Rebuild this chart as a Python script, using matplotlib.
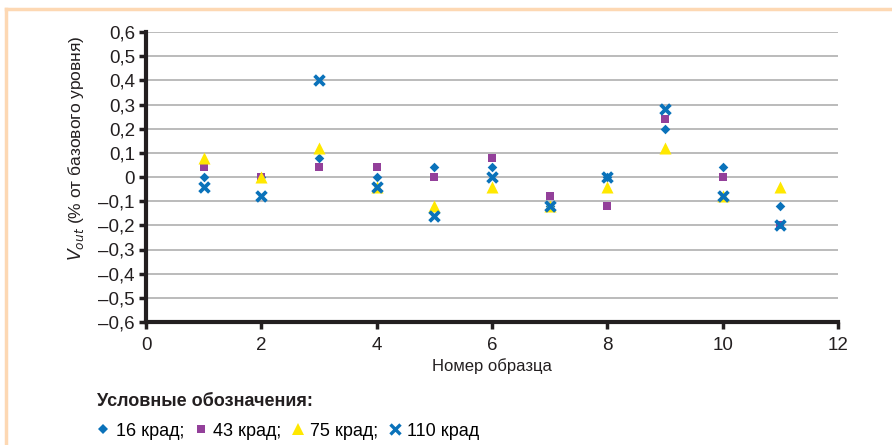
import matplotlib
matplotlib.use("Agg")
import matplotlib.pyplot as plt
from matplotlib.lines import Line2D
from matplotlib.ticker import FixedLocator, FuncFormatter

plt.rcParams['font.family'] = ['Liberation Sans', 'DejaVu Sans']

samples = [1, 2, 3, 4, 5, 6, 7, 8, 9, 10, 11]
v16 = [0.0, 0.0, 0.08, 0.0, 0.04, 0.04, -0.12, 0.0, 0.20, 0.04, -0.12]
v43 = [0.04, 0.0, 0.04, 0.04, 0.0, 0.08, -0.08, -0.12, 0.24, 0.0, -0.20]
v75 = [0.08, 0.0, 0.12, -0.04, -0.12, -0.04, -0.12, -0.04, 0.12, -0.08, -0.04]
v110 = [-0.04, -0.08, 0.40, -0.04, -0.16, 0.0, -0.12, 0.0, 0.28, -0.08, -0.20]
labels = ["16 крад;", "43 крад;", "75 крад;", "110 крад"]
yticks = [-0.6, -0.5, -0.4, -0.3, -0.2, -0.1, 0, 0.1, 0.2, 0.3, 0.4, 0.5, 0.6]
xticks = [0, 2, 4, 6, 8, 10, 12]

blue = '#0A72BA'
purple = '#93409A'
yellow = '#FFE800'
ink = '#231F20'

fig = plt.figure(figsize=(8.92, 4.45), dpi=100)
ax = fig.add_axes([146/892, 1-322/445, (838-146)/892, (322-32)/445])

ax.scatter(samples, v16, marker='D', s=24, color=blue, zorder=3, linewidths=0)
ax.scatter(samples, v43, marker='s', s=36, color=purple, zorder=4, linewidths=0)
ax.scatter(samples, v75, marker='^', s=75, color=yellow, zorder=5, linewidths=0)
ax.scatter(samples, v110, marker='x', s=50, color=blue, zorder=6, linewidths=2.7)

ax.set_xlim(0, 12)
ax.set_ylim(-0.6, 0.6)
ax.xaxis.set_major_locator(FixedLocator(xticks))
ax.yaxis.set_major_locator(FixedLocator(yticks))

def yfmt(v, pos):
    if abs(v) < 1e-9:
        return '0'
    s = f"{abs(v):.1f}".replace('.', ',')
    return ('–' + s) if v < 0 else s

ax.yaxis.set_major_formatter(FuncFormatter(yfmt))
ax.grid(axis='y', color='#A8A8A8', linewidth=1.1, zorder=0)
ax.set_axisbelow(True)
for sp in ['top', 'right']:
    ax.spines[sp].set_visible(False)
for sp in ['left', 'bottom']:
    ax.spines[sp].set_linewidth(3)
    ax.spines[sp].set_color(ink)
    ax.spines[sp].set_zorder(7)
ax.tick_params(axis='both', direction='out', length=5, width=2.5, color=ink,
               labelsize=13.5, labelcolor=ink)
ax.tick_params(axis='x', pad=6)
ax.tick_params(axis='y', pad=3)

ax.set_ylabel(r'$V_{out}$' + ' (% от базового уровня)', fontsize=12.5, color=ink)
ax.yaxis.set_label_coords(-0.086, 0.60)
ax.set_xlabel('Номер образца', fontsize=12, color=ink, labelpad=3)

fig.text(97/892, 1-401/445, 'Условные обозначения:', fontsize=13, fontweight='bold',
         color=ink, va='center', ha='left')

handles = [
    Line2D([], [], linestyle='none', marker='D', markersize=5, color=blue, markeredgewidth=0),
    Line2D([], [], linestyle='none', marker='s', markersize=6, color=purple, markeredgewidth=0),
    Line2D([], [], linestyle='none', marker='^', markersize=8, color=yellow, markeredgewidth=0),
    Line2D([], [], linestyle='none', marker='x', markersize=6.5, color=blue, markeredgewidth=2.4),
]
fig.legend(handles, labels, loc='center left', bbox_to_anchor=(97/892, 1-431/445),
           ncol=4, frameon=False, handlelength=0.7, handletextpad=0.35,
           columnspacing=0.55, borderaxespad=0, borderpad=0,
           prop={'family': ['Liberation Sans', 'DejaVu Sans'], 'size': 13})

# light orange frame (top and left)
fig.add_artist(Line2D([6/892, 1], [1-9/445, 1-9/445], transform=fig.transFigure,
                      color='#FDD8B3', linewidth=2.5))
fig.add_artist(Line2D([6/892, 6/892], [0, 1-9/445], transform=fig.transFigure,
                      color='#FDD8B3', linewidth=2.5))

fig.savefig('out.png', dpi=100)
